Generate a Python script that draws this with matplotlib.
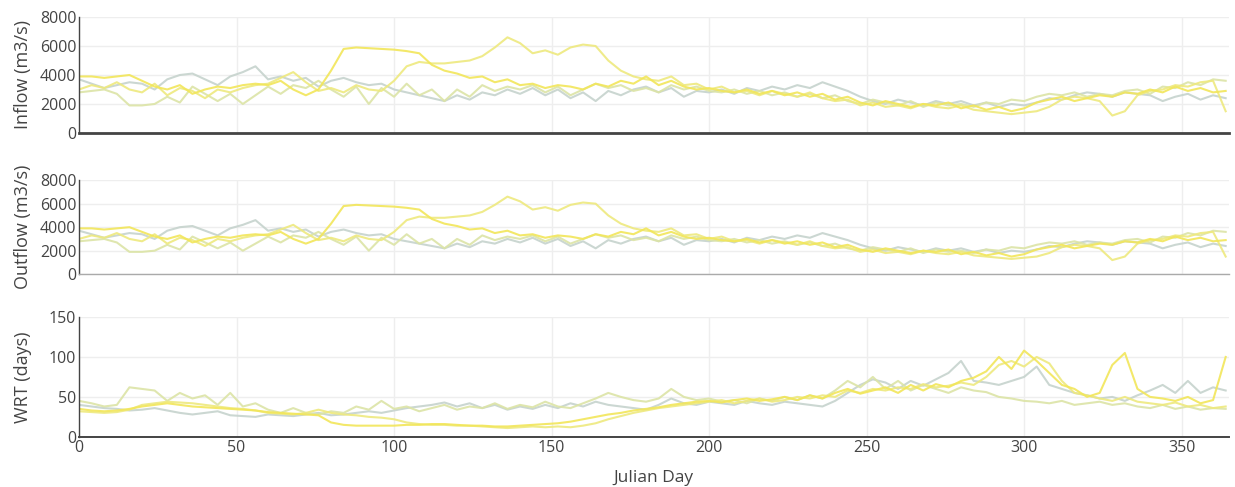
import matplotlib.pyplot as plt

# sample days (every 4th Julian day)
days = list(range(0, 365, 4))

# inflow (m3/s), four years of record
inflow_a = [3900, 3900, 3800, 3900, 4000, 3600, 3200, 3000, 3300, 2700,
            3000, 3200, 3100, 3300, 3400, 3300, 3600, 3000, 2600, 3000,
            4300, 5800, 5900, 5850, 5800, 5750, 5650, 5500, 4700, 4300,
            4100, 3800, 3900, 3500, 3700, 3300, 3400, 3100, 3300, 3200,
            3000, 3400, 3200, 3600, 3400, 3900, 3300, 3600, 3200, 3000,
            3100, 2900, 2800, 3000, 2700, 2900, 2600, 2800, 2500, 2700,
            2300, 2500, 2100, 1900, 2200, 2000, 1800, 2000, 1900, 2100,
            1700, 1900, 1600, 1800, 1500, 1700, 2100, 2300, 2500, 2200,
            2400, 2600, 2500, 2800, 2700, 3000, 2800, 3200, 2900, 3100,
            2800, 2900]
inflow_b = [3000, 3300, 3100, 3500, 3000, 2800, 3400, 2600, 3100, 2900,
            2400, 3000, 2800, 3100, 3300, 3400, 3800, 4200, 3500, 2900,
            3100, 2800, 3300, 3000, 2900, 3600, 4600, 4900, 4800, 4800,
            4900, 5000, 5300, 5900, 6600, 6200, 5500, 5700, 5400, 5900,
            6100, 6000, 5000, 4300, 3900, 3700, 3600, 3900, 3300, 3400,
            3000, 3200, 2800, 2900, 2600, 2900, 2700, 2500, 2800, 2400,
            2200, 2300, 1900, 2100, 1800, 1900, 1700, 2000, 1800, 1700,
            1900, 1600, 1500, 1400, 1300, 1400, 1500, 1800, 2300, 2500,
            2400, 2200, 1200, 1500, 2600, 2900, 3000, 3300, 3200, 3500,
            3600, 1500]
inflow_c = [2800, 2900, 3000, 2700, 1900, 1900, 2000, 2500, 2100, 3200,
            2700, 2200, 2700, 2000, 2600, 3200, 2700, 3300, 3100, 3600,
            3000, 2500, 3200, 2000, 3100, 2500, 3400, 2600, 3000, 2200,
            3000, 2500, 3300, 2900, 3200, 3000, 3300, 2800, 3200, 2600,
            3000, 3400, 3100, 3300, 2900, 3100, 2800, 3300, 3000, 3200,
            2900, 2800, 3000, 2700, 2900, 2600, 2800, 2500, 2700, 2400,
            2600, 2200, 2000, 2300, 2100, 1900, 2200, 1800, 2100, 1900,
            2000, 1800, 2100, 2000, 2300, 2200, 2500, 2700, 2600, 2800,
            2500, 2700, 2600, 2900, 3000, 2700, 3200, 3100, 3500, 3300,
            3700, 3600]
inflow_d = [3700, 3400, 3100, 3300, 3500, 3400, 3000, 3700, 4000, 4100,
            3700, 3300, 3900, 4200, 4600, 3700, 3900, 3600, 3800, 3200,
            3600, 3800, 3500, 3300, 3400, 3000, 2800, 2600, 2400, 2200,
            2600, 2300, 2800, 2600, 3000, 2700, 3100, 2600, 3000, 2400,
            2800, 2200, 2900, 2600, 3000, 3200, 2800, 3100, 2500, 2900,
            2800, 3000, 2700, 3100, 2900, 3200, 3000, 3300, 3100, 3500,
            3200, 2900, 2500, 2200, 2000, 2300, 2100, 1900, 2200, 2000,
            2200, 1900, 2100, 1800, 2000, 1900, 2100, 2400, 2300, 2600,
            2800, 2700, 2500, 2800, 2700, 2600, 2200, 2500, 2700, 2300,
            2600, 2400]

# outflow traces read the same as inflow in the picture
outflow_a = list(inflow_a)
outflow_b = list(inflow_b)
outflow_c = list(inflow_c)
outflow_d = list(inflow_d)

# water residence time (days)
wrt_a = [35, 33, 32, 33, 35, 38, 40, 42, 40, 38,
         37, 36, 35, 34, 33, 31, 30, 29, 28, 27,
         18, 15, 14, 14, 14, 14, 15, 15, 16, 16,
         15, 14, 14, 13, 13, 14, 15, 16, 17, 19,
         22, 25, 28, 30, 33, 35, 37, 40, 42, 44,
         45, 43, 46, 48, 45, 47, 50, 46, 52, 48,
         55, 60, 54, 58, 62, 55, 65, 58, 66, 62,
         70, 74, 82, 100, 85, 108, 95, 80, 65, 60,
         50, 55, 90, 105, 60, 50, 48, 45, 50, 42,
         46, 100]
wrt_b = [32, 31, 30, 31, 34, 40, 42, 44, 43, 42,
         40, 38, 36, 35, 33, 30, 29, 28, 30, 34,
         30, 28, 27, 25, 24, 22, 18, 16, 15, 15,
         14, 14, 13, 12, 11, 12, 13, 12, 13, 12,
         14, 17, 22, 26, 30, 33, 36, 38, 40, 42,
         44, 46, 42, 45, 48, 44, 46, 50, 48, 52,
         50, 58, 55, 60, 58, 62, 60, 66, 62, 64,
         68, 65, 75, 90, 95, 88, 100, 92, 70, 55,
         52, 48, 45, 50, 44, 42, 40, 43, 38, 40,
         36, 38]
wrt_c = [45, 42, 38, 40, 62, 60, 58, 45, 55, 48,
         52, 40, 55, 38, 42, 34, 30, 36, 30, 28,
         32, 30, 38, 34, 45, 35, 38, 32, 36, 40,
         34, 38, 36, 42, 35, 40, 37, 44, 38, 36,
         42, 48, 55, 50, 46, 44, 48, 60, 50, 46,
         48, 44, 46, 42, 48, 45, 50, 46, 52, 48,
         58, 70, 62, 75, 60, 70, 58, 65, 60, 55,
         62, 58, 56, 50, 48, 45, 44, 42, 45, 40,
         42, 44, 40, 42, 38, 36, 40, 35, 38, 34,
         36, 35]
wrt_d = [40, 38, 36, 35, 33, 34, 36, 33, 30, 28,
         30, 32, 27, 26, 25, 28, 27, 26, 28, 30,
         27, 28, 30, 32, 30, 33, 36, 38, 40, 43,
         38, 42, 36, 40, 34, 38, 35, 40, 36, 42,
         38, 44, 40, 38, 36, 34, 40, 48, 42, 40,
         44, 42, 40, 45, 42, 40, 44, 42, 40, 38,
         45, 55, 65, 72, 68, 60, 70, 64, 72, 80,
         95, 70, 68, 65, 70, 75, 88, 65, 60, 55,
         52, 48, 50, 45, 52, 58, 65, 55, 70, 55,
         62, 58]

colors = ['#f2e65a', '#eee97e', '#dce4a6', '#c6d3cd']
draw_order = [3, 2, 1, 0]

panels = [
    ('Inflow (m3/s)', [inflow_a, inflow_b, inflow_c, inflow_d], 8000, [0, 2000, 4000, 6000, 8000]),
    ('Outflow (m3/s)', [outflow_a, outflow_b, outflow_c, outflow_d], 8000, [0, 2000, 4000, 6000, 8000]),
    ('WRT (days)', [wrt_a, wrt_b, wrt_c, wrt_d], 150, [0, 50, 100, 150]),
]
# [left, bottom, width, height] in figure fractions
boxes = [[0.064, 0.727, 0.931, 0.238],
         [0.064, 0.437, 0.931, 0.193],
         [0.064, 0.103, 0.931, 0.246]]
zero_line = [('#444444', 2.0), ('#aaaaaa', 1.0), ('#444444', 1.4)]

fig = plt.figure(figsize=(12.35, 4.87), dpi=100)
plt.rcParams['font.family'] = ['Open Sans', 'DejaVu Sans']
txt = '#444444'

for i, (label, series, ymax, yticks) in enumerate(panels):
    ax = fig.add_axes(boxes[i])
    for k in draw_order:
        ax.plot(days, series[k], color=colors[k], lw=1.5, alpha=0.9, solid_joinstyle='round')
    ax.set_xlim(0, 365)
    ax.set_ylim(0, ymax)
    ax.set_yticks(yticks)
    ax.set_xticks(range(0, 365, 50))
    ax.grid(True, color='#eeeeee', lw=1)
    ax.set_axisbelow(True)
    for s in ['top', 'right']:
        ax.spines[s].set_visible(False)
    ax.spines['left'].set_color('#444444')
    ax.spines['left'].set_linewidth(1.0)
    ax.spines['bottom'].set_color(zero_line[i][0])
    ax.spines['bottom'].set_linewidth(zero_line[i][1])
    ax.tick_params(length=0, pad=2, labelsize=11.5, colors=txt)
    ax.set_ylabel(label, fontsize=13, color=txt)
    ax.yaxis.set_label_coords(-0.041, 0.5)
    if i < 2:
        ax.tick_params(labelbottom=False)
    else:
        ax.set_xlabel('Julian Day', fontsize=12.5, color=txt, labelpad=10)

fig.savefig('out.png', dpi=100)
